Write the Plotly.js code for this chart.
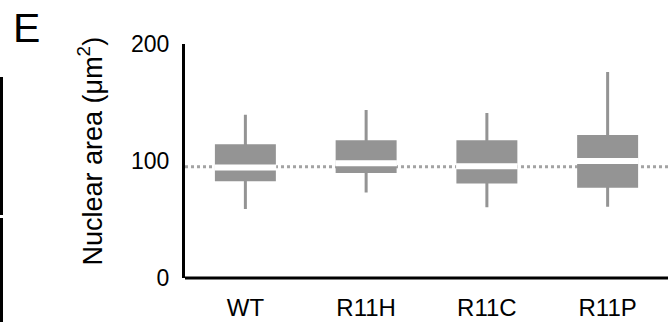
<!DOCTYPE html>
<html>
<head>
<meta charset="utf-8">
<script src="https://cdn.plot.ly/plotly-3.0.1.min.js"></script>
<style>html,body{margin:0;padding:0;background:#fff;}#chart{width:668px;height:322px;}</style>
</head>
<body>
<div id="chart"></div>
<script>
// Data
const categories = ['WT', 'R11H', 'R11C', 'R11P'];
const lowerWhisker = [59, 73, 60.5, 61];
const quartile1 = [84, 91, 82, 78.5];
const medians = [94.5, 98, 95.5, 100];
const quartile3 = [113, 116.5, 116.5, 121];
const upperWhisker = [139.5, 143.5, 141, 176];
const referenceLevel = [95];
const yTickValues = [0, 100, 200];

const grey = '#949494';
const font = 'Liberation Sans, Arial, sans-serif';

const boxTrace = {
  type: 'box',
  x: categories,
  q1: quartile1,
  median: medians,
  q3: quartile3,
  lowerfence: lowerWhisker,
  upperfence: upperWhisker,
  boxpoints: false,
  width: 0.48,
  whiskerwidth: 0,
  fillcolor: grey,
  line: {color: grey, width: 3},
  hoverinfo: 'skip',
  showlegend: false
};
const medianTrace = {
  type: 'box',
  x: categories,
  q1: medians,
  median: medians,
  q3: medians,
  lowerfence: medians,
  upperfence: medians,
  boxpoints: false,
  width: 0.51,
  whiskerwidth: 0,
  fillcolor: '#ffffff',
  line: {color: '#ffffff', width: 6},
  hoverinfo: 'skip',
  showlegend: false
};

const layout = {
  width: 668, height: 322,
  margin: {l: 185, r: 0, t: 44, b: 44, pad: 0},
  paper_bgcolor: '#fff', plot_bgcolor: '#fff',
  font: {family: font, color: '#000', size: 22},
  boxmode: 'overlay',
  xaxis: {
    type: 'category', range: [-0.5, 3.5], showgrid: false, zeroline: false,
    showline: false, ticks: '', ticklabelstandoff: 13,
    tickfont: {size: 24, family: font}
  },
  yaxis: {
    range: [0, 200], tickvals: yTickValues, showgrid: false, zeroline: false,
    showline: true, linecolor: '#000', linewidth: 3, ticks: '', ticklabelstandoff: 8,
    tickfont: {size: 23, family: font}
  },
  shapes: [
    {type: 'line', xref: 'paper', yref: 'y', x0: 0, x1: 1, y0: referenceLevel[0], y1: referenceLevel[0],
     line: {color: '#a3a3a3', width: 3, dash: 'dot'}, layer: 'below'},
    {type: 'line', xref: 'paper', yref: 'paper', x0: 0, x1: 1, y0: 0, y1: 0,
     line: {color: '#000', width: 3}, layer: 'above'},
    {type: 'rect', xref: 'paper', yref: 'paper', x0: -185/483, x1: -182/483, y0: (278-215)/234, y1: (278-77)/234,
     line: {width: 0}, fillcolor: '#000'},
    {type: 'rect', xref: 'paper', yref: 'paper', x0: -185/483, x1: -182/483, y0: -1, y1: (278-218)/234,
     line: {width: 0}, fillcolor: '#000'}
  ],
  annotations: [
    {text: 'Nuclear area (μm<sup>2</sup>)', xref: 'paper', yref: 'paper', x: (90-185)/483, y: (278-151.5)/234,
     xanchor: 'center', yanchor: 'middle', textangle: -90, showarrow: false, font: {size: 27, family: font}},
    {text: 'E', xref: 'paper', yref: 'paper', x: (11-185)/483, y: (278-28)/234,
     xanchor: 'left', yanchor: 'middle', showarrow: false, font: {size: 41, family: font}}
  ]
};

Plotly.newPlot('chart', [boxTrace, medianTrace], layout, {staticPlot: true, displayModeBar: false});
</script>
</body>
</html>
